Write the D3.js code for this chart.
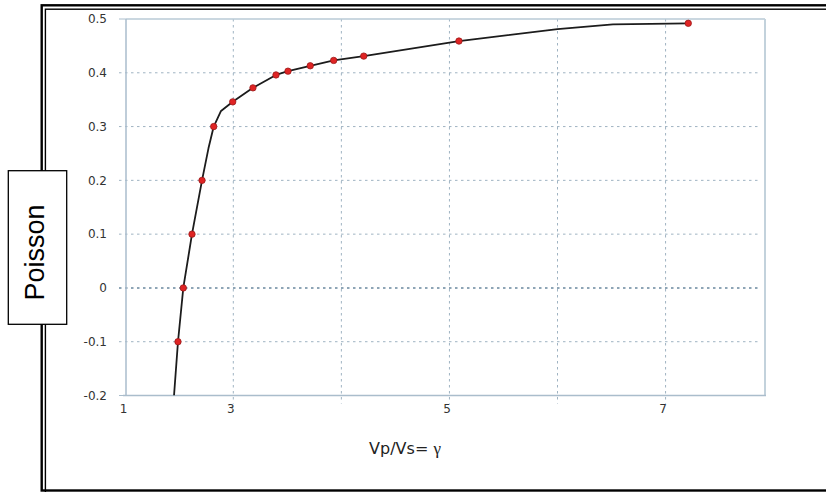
<!DOCTYPE html>
<html>
<head>
<meta charset="utf-8">
<script src="https://cdn.jsdelivr.net/npm/d3@7/dist/d3.min.js"></script>
<style>
  html, body { margin: 0; padding: 0; background: #ffffff; }
  svg { display: block; }
</style>
</head>
<body>
<svg id="chart" width="826" height="492"></svg>
<script>
// ---- data ----
const markerGamma   = [1.969, 2.068, 2.230, 2.417, 2.635, 2.989, 3.182, 3.395, 3.506, 3.712, 3.929, 4.207, 5.088, 7.210];
const markerPoisson = [-0.10, 0.00, 0.10, 0.20, 0.30, 0.346, 0.372, 0.396, 0.403, 0.413, 0.423, 0.431, 0.459, 0.492];
// line vertices (markers plus unmarked bends of the curve)
const curveGamma   = [1.895, 1.969, 2.068, 2.230, 2.417, 2.538, 2.635, 2.771, 2.989, 3.182, 3.395, 3.506, 3.712, 3.929, 4.207, 5.088, 6.000, 6.513, 7.210];
const curvePoisson = [-0.20, -0.10, 0.00, 0.10, 0.20, 0.260, 0.30, 0.329, 0.346, 0.372, 0.396, 0.403, 0.413, 0.423, 0.431, 0.459, 0.481, 0.490, 0.492];
const xTickLabels = [1, 3, 5, 7];
const xGridValues = [3, 4, 5, 6, 7];
const yTicks = [-0.2, -0.1, 0, 0.1, 0.2, 0.3, 0.4, 0.5];
const xTitle = "Vp/Vs= ";
const xTitleSymbol = "γ";
const yTitle = "Poisson";

// ---- layout ----
const svg = d3.select("#chart");
const L = 126, R = 765, T = 19, B = 395.5;

// the picture's x axis is not uniform: 1..3 is squeezed compared with 3..8
const x = d3.scaleLinear().domain([1, 3, 7.92]).range([L, 233.3, R]);
const y = d3.scaleLinear().domain([-0.2, 0.5]).range([B, T]);

// outer double frame (continues past the right/bottom edge)
svg.append("rect").attr("x", 41.7).attr("y", 5.3).attr("width", 900).attr("height", 485.2)
  .attr("fill", "none").attr("stroke", "#000").attr("stroke-width", 2.4);
svg.append("rect").attr("x", 45.4).attr("y", 9.2).attr("width", 900).attr("height", 520)
  .attr("fill", "none").attr("stroke", "#000").attr("stroke-width", 1.4);

// plot area background
svg.append("rect").attr("x", L).attr("y", T).attr("width", R - L).attr("height", B - T)
  .attr("fill", "#ffffff");

// horizontal gridlines
svg.append("g").selectAll("line")
  .data(yTicks.filter(d => d !== -0.2 && d !== 0.5))
  .join("line")
  .attr("x1", L - 7).attr("x2", R - 6)
  .attr("y1", d => y(d)).attr("y2", d => y(d))
  .attr("stroke", d => d === 0 ? "#8ea5b6" : "#9fb3c2")
  .attr("stroke-width", d => d === 0 ? 2 : 1)
  .attr("stroke-dasharray", d => d === 0 ? "2.5,3.5" : "2.5,3.5");

// short tick marks at the top and bottom value
svg.append("g").selectAll("line")
  .data([-0.2, 0.5])
  .join("line")
  .attr("x1", L - 7).attr("x2", L)
  .attr("y1", d => y(d)).attr("y2", d => y(d))
  .attr("stroke", "#aabdcc").attr("stroke-width", 1);

// vertical gridlines
svg.append("g").selectAll("line")
  .data(xGridValues)
  .join("line")
  .attr("x1", d => x(d)).attr("x2", d => x(d))
  .attr("y1", T).attr("y2", B + 8)
  .attr("stroke", "#9fb3c2").attr("stroke-width", 1)
  .attr("stroke-dasharray", "2.5,3.5");

// plot frame
svg.append("line").attr("x1", L).attr("x2", R).attr("y1", T).attr("y2", T)
  .attr("stroke", "#b9cad6").attr("stroke-width", 1.5);
svg.append("line").attr("x1", R).attr("x2", R).attr("y1", T).attr("y2", B)
  .attr("stroke", "#c3d2dc").attr("stroke-width", 2);
svg.append("line").attr("x1", L).attr("x2", L).attr("y1", T).attr("y2", B)
  .attr("stroke", "#aabdcc").attr("stroke-width", 1.5);
svg.append("line").attr("x1", L - 3).attr("x2", R + 1).attr("y1", B).attr("y2", B)
  .attr("stroke", "#aabdcc").attr("stroke-width", 1.5);

// y axis labels
const yAxis = d3.axisLeft(y).tickValues(yTicks).tickSize(0).tickPadding(19)
  .tickFormat(d => d === 0 ? "0" : String(+d.toFixed(1)));
const gy = svg.append("g").attr("transform", `translate(${L},0)`).call(yAxis);
gy.select(".domain").remove();
gy.selectAll("text").attr("font-family", "DejaVu Sans, Verdana, sans-serif")
  .attr("font-size", 12).attr("fill", "#333");

// x axis labels
const xAxis = d3.axisBottom(x).tickValues(xTickLabels).tickSize(0).tickPadding(9)
  .tickFormat(d3.format("d"));
const gx = svg.append("g").attr("transform", `translate(0,${B})`).call(xAxis);
gx.select(".domain").remove();
gx.selectAll("text").attr("font-family", "DejaVu Sans, Verdana, sans-serif")
  .attr("font-size", 12).attr("fill", "#333").attr("dx", -3);

// clip path for the curve
svg.append("clipPath").attr("id", "plotclip")
  .append("rect").attr("x", L).attr("y", T - 6).attr("width", R - L).attr("height", B - T + 6);

// curve
const curveData = curveGamma.map((g, i) => ({ g, p: curvePoisson[i] }));
const line = d3.line().x(d => x(d.g)).y(d => y(d.p));
svg.append("path").datum(curveData)
  .attr("clip-path", "url(#plotclip)")
  .attr("d", line)
  .attr("fill", "none").attr("stroke", "#1c1c1c").attr("stroke-width", 1.8)
  .attr("stroke-linejoin", "round");

// markers
const markerData = markerGamma.map((g, i) => ({ g, p: markerPoisson[i] }));
svg.append("g").selectAll("circle")
  .data(markerData)
  .join("circle")
  .attr("cx", d => x(d.g)).attr("cy", d => y(d.p)).attr("r", 3.2)
  .attr("fill", "#e02424").attr("stroke", "#9a1a1a").attr("stroke-width", 0.8);

// x axis title
const xt = svg.append("text").attr("x", 405).attr("y", 454)
  .attr("text-anchor", "middle")
  .attr("font-family", "DejaVu Sans, Verdana, sans-serif")
  .attr("font-size", 16).attr("fill", "#222");
xt.append("tspan").text(xTitle);
xt.append("tspan").attr("font-family", "Liberation Serif, Times New Roman, serif")
  .attr("font-size", 17).text(xTitleSymbol);

// y title box
svg.append("rect").attr("x", 8.3).attr("y", 170.7).attr("width", 58.4).attr("height", 153.6)
  .attr("fill", "#ffffff").attr("stroke", "#000").attr("stroke-width", 1.3);
svg.append("text")
  .attr("transform", "translate(43.5,252.5) rotate(-90)")
  .attr("text-anchor", "middle")
  .attr("font-family", "Liberation Sans, Arial, sans-serif")
  .attr("font-size", 27).attr("fill", "#000")
  .text(yTitle);
</script>
</body>
</html>
